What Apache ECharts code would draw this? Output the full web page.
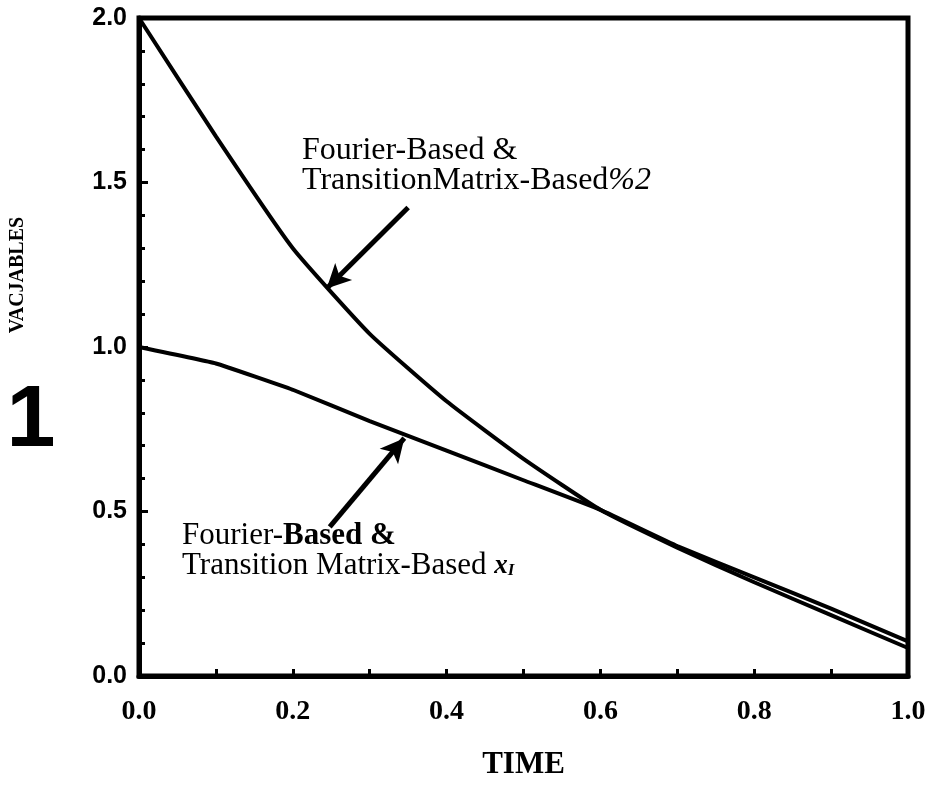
<!DOCTYPE html>
<html>
<head>
<meta charset="utf-8">
<script src="https://cdn.jsdelivr.net/npm/echarts@6/dist/echarts.min.js"></script>
<style>
  html, body { margin: 0; padding: 0; background: #fff; }
  #chart { width: 933px; height: 788px; }
</style>
</head>
<body>
<div id="chart"></div>
<script>
// values
var timeVals = [0.0, 0.1, 0.2, 0.3, 0.4, 0.5, 0.6, 0.7, 0.8, 0.9, 1.0];
var x1Vals = [1.0, 0.95, 0.87, 0.775, 0.685, 0.595, 0.505, 0.395, 0.30, 0.205, 0.105];
var x2Vals = [2.0, 1.64, 1.30, 1.04, 0.835, 0.66, 0.505, 0.39, 0.285, 0.185, 0.085];
// arrows (data coords): [tail, tip]
var arrowX2 = [[0.350, 1.424], [0.244, 1.178]];
var arrowX1 = [[0.248, 0.453], [0.345, 0.723]];

var myChart = echarts.init(document.getElementById('chart'));

function pairs(ys) {
    return timeVals.map(function (t, i) { return [t, ys[i]]; });
}

var serif = '"Liberation Serif", "Times New Roman", serif';
var sans = '"Liberation Sans", Arial, sans-serif';

var option = {
    animation: false,
    grid: {
        left: 139,
        top: 18,
        right: 25,
        bottom: 112,
        show: true,
        borderColor: '#000',
        borderWidth: 5
    },
    xAxis: {
        type: 'value',
        min: 0,
        max: 1,
        interval: 0.2,
        name: 'TIME',
        nameLocation: 'middle',
        nameGap: 73,
        nameTextStyle: { fontFamily: serif, fontWeight: 'bold', fontSize: 31, color: '#000' },
        axisLine: { show: true, lineStyle: { color: '#000', width: 5 } },
        axisTick: { show: true, inside: true, length: 7, lineStyle: { color: '#000', width: 3 } },
        minorTick: { show: true, splitNumber: 2, length: 7, lineStyle: { color: '#000', width: 3 } },
        splitLine: { show: false },
        axisLabel: {
            margin: 22,
            fontFamily: serif,
            fontWeight: 'bold',
            fontSize: 28,
            color: '#000',
            formatter: function (v) { return v.toFixed(1); }
        }
    },
    yAxis: {
        type: 'value',
        min: 0,
        max: 2,
        interval: 0.5,
        axisLine: { show: true, lineStyle: { color: '#000', width: 5 } },
        axisTick: { show: true, inside: true, length: 9, lineStyle: { color: '#000', width: 3 } },
        minorTick: { show: true, splitNumber: 5, length: 6, lineStyle: { color: '#000', width: 3 } },
        splitLine: { show: false },
        axisLabel: {
            margin: 12,
            fontFamily: sans,
            fontWeight: 'bold',
            fontSize: 25,
            color: '#000',
            formatter: function (v) { return v.toFixed(1); }
        }
    },
    series: [
        {
            name: 'x1',
            type: 'line',
            data: pairs(x1Vals),
            showSymbol: false,
            smooth: 0.1,
            lineStyle: { color: '#000', width: 4 },
            markLine: {
                silent: true,
                symbol: ['none', 'arrow'],
                symbolSize: [18, 24],
                label: { show: false },
                lineStyle: { color: '#000', width: 5, type: 'solid' },
                data: [[{ coord: arrowX1[0] }, { coord: arrowX1[1] }]]
            }
        },
        {
            name: 'x2',
            type: 'line',
            data: pairs(x2Vals),
            showSymbol: false,
            smooth: 0.15,
            lineStyle: { color: '#000', width: 4 },
            markLine: {
                silent: true,
                symbol: ['none', 'arrow'],
                symbolSize: [18, 24],
                label: { show: false },
                lineStyle: { color: '#000', width: 5, type: 'solid' },
                data: [[{ coord: arrowX2[0] }, { coord: arrowX2[1] }]]
            }
        }
    ],
    graphic: [
        {
            type: 'text',
            x: 18, y: 275,
            rotation: Math.PI / 2,
            style: {
                text: 'VACJABLES',
                font: 'bold 20px ' + serif,
                fill: '#000',
                textAlign: 'center',
                textVerticalAlign: 'middle'
            }
        },
        {
            type: 'text',
            x: 31, y: 422,
            style: {
                text: '1',
                font: 'bold 88px ' + sans,
                fill: '#000',
                textAlign: 'center',
                textVerticalAlign: 'middle'
            }
        },
        {
            type: 'text',
            x: 302, y: 136,
            style: {
                text: 'Fourier-Based &\nTransitionMatrix-Based{i|%2}',
                font: '32px ' + serif,
                lineHeight: 30,
                fill: '#000',
                rich: {
                    i: { fontFamily: serif, fontStyle: 'italic', fontSize: 32, lineHeight: 30 }
                }
            }
        },
        {
            type: 'text',
            x: 182, y: 521,
            style: {
                text: 'Fourier-{b|Based &}\nTransition Matrix-Based {x|x}{s|I}',
                font: '31px ' + serif,
                lineHeight: 30,
                fill: '#000',
                rich: {
                    b: { fontFamily: serif, fontWeight: 'bold', fontSize: 31, lineHeight: 30 },
                    x: { fontFamily: serif, fontWeight: 'bold', fontStyle: 'italic', fontSize: 27, lineHeight: 30 },
                    s: { fontFamily: serif, fontWeight: 'bold', fontStyle: 'italic', fontSize: 17, lineHeight: 30, padding: [9, 0, 0, 0] }
                }
            }
        }
    ]
};
myChart.setOption(option);
</script>
</body>
</html>
